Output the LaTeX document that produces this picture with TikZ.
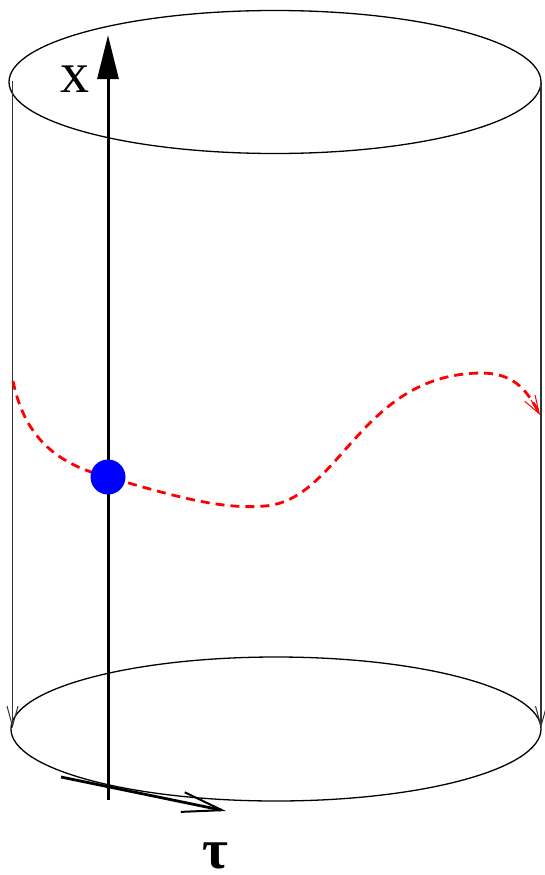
\documentclass[tikz,border=0pt]{standalone}
\usepackage{fontspec}
\setmainfont{Liberation Serif}
\usetikzlibrary{arrows.meta}
\begin{document}
\begin{tikzpicture}[x=1pt,y=-1pt,
  rim/.style={line width=1.3pt,black},
  side/.style={line width=1.4pt,black!80,-{Straight Barb[length=20pt,width=11pt,line width=1pt]}},
  axis/.style={line width=3pt,black},
  path/.style={red,line width=2.8pt,dash pattern=on 9pt off 6pt},
  lbl/.style={inner sep=0pt}]
\useasboundingbox (0,0) rectangle (545,875);
% ellipses
\draw[rim] (275,82) ellipse [x radius=266, y radius=71.5];
\draw[rim] (276,729) ellipse [x radius=265, y radius=72];
% sides
\coordinate (lt) at (12.5,81);
\coordinate (lb) at (12.5,728);
\coordinate (rt) at (541,82);
\coordinate (rb) at (541,728);
\draw[side] (lt) -- (lb);
\draw[side] (rt) -- (rb);
% x axis
\coordinate (xb) at (108,800);
\coordinate (xt) at (108,35);
\draw[axis,-{Triangle[length=44pt,width=21pt]}] (xb) -- (xt);
\node[lbl,font=\fontsize{58}{58}\selectfont] (xl) at (75,79) {x};
% tau axis
\coordinate (ts) at (61,777);
\coordinate (te) at (226,811);
\draw[line width=2.8pt,-{Straight Barb[length=40pt,width=20pt,line width=2pt]}] (ts) -- (te);
\node[lbl,anchor=base,text depth=0pt,font=\fontsize{56}{56}\selectfont\bfseries] (tl) at (215,868) {τ};
% red path
\coordinate (p0) at (13,381);
\coordinate (p1) at (108,477);
\coordinate (p2) at (265,506);
\coordinate (p3) at (480,373);
\coordinate (p4) at (540,415);
\draw[path] (p0) .. controls (25,440) and (60,465) .. (p1)
  .. controls (170,495) and (220,510) .. (p2)
  .. controls (340,500) and (360,375) .. (p3)
  .. controls (510,373) and (525,385) .. (p4);
\draw[red,line width=1pt,-{Straight Barb[length=18pt,width=12pt,line width=1pt]}] (531,400) -- (p4);
% blue dot
\node[circle,fill=blue,minimum size=35pt,inner sep=0pt] (dot) at (p1) {};
\end{tikzpicture}
\end{document}
